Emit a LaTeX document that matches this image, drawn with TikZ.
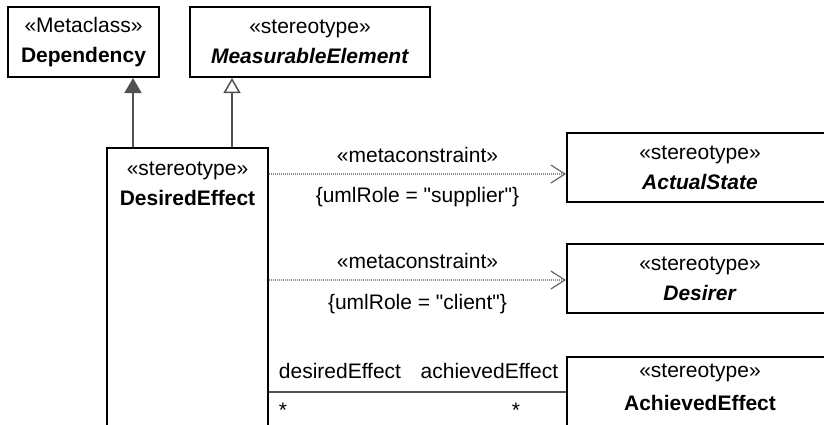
\documentclass[tikz,border=0pt]{standalone}
\usepackage{fontspec}
\setmainfont{Liberation Sans}
\font\quotefont="Liberation Sans" at 21pt
\newcommand{\straightq}{{\quotefont\char34}}
\usetikzlibrary{arrows.meta,positioning}
\colorlet{linegray}{black!68}
\colorlet{dotgray}{black!45}

\begin{document}
\begin{tikzpicture}
    [x=1pt,y=-1pt,
    every node/.style={font=\fontsize{21}{30}\selectfont},
    classbox/.style={draw,line width=2pt,align=center,inner sep=0pt,minimum height=70pt},
    headtext/.style={align=center,inner sep=0pt,anchor=north},
    genline/.style={draw=linegray,line width=1.5pt},
    metaline/.style={draw=dotgray,line width=1.1pt,dash pattern=on 1pt off 1pt,
        -{Straight Barb[length=14pt,width=18pt,line width=1.2pt,color=black!60]}},
    assocline/.style={draw=linegray,line width=1.8pt},
    rolelabel/.style={inner sep=3pt}]
    \useasboundingbox (0,0) rectangle (824,424);
    \clip (0,0) rectangle (824,424);
    %top boxes
    \node[classbox,minimum width=151pt] (dep) at (83.5,42)
    {«Metaclass»\\\textbf{Dependency}};
    \node[classbox,minimum width=240pt] (meas) at (310,42)
    {«stereotype»\\\textbf{\textit{MeasurableElement}}};
    %left box, runs off the bottom
    \node[classbox,minimum width=161pt,minimum height=330pt,anchor=north] (desiredbox) at (187.5,147) {};
    \node[headtext] (desiredtxt) at ([yshift=-15pt]desiredbox.north)
    {«stereotype»\\\textbf{DesiredEffect}};
    %right boxes
    \node[classbox,minimum width=266pt,minimum height=69pt] (actual) at (700,167.5)
    {«stereotype»\\\textbf{\textit{ActualState}}};
    \node[classbox,minimum width=266pt,minimum height=69pt] (desirer) at (700,278.5)
    {«stereotype»\\\textbf{\textit{Desirer}}};
    \node[classbox,minimum width=266pt,minimum height=120pt,anchor=north] (achieved) at (700,356) {};
    \node[headtext] (achievedtxt) at ([yshift=-8pt]achieved.north)
    {«stereotype»\\[3pt]\textbf{AchievedEffect}};
    %generalizations
    \coordinate (g1) at ([xshift=27pt]desiredbox.north west);
    \coordinate (g2) at ([xshift=126pt]desiredbox.north west);
    \draw[genline,-{Triangle[length=15pt,width=17pt]}] (g1) -- (g1 |- dep.south);
    \draw[genline,-{Triangle[open,length=15pt,width=17pt]}] (g2) -- (g2 |- meas.south);
    %metaconstraints
    \coordinate (m1) at ([yshift=-6.5pt]actual.west);
    \coordinate (m2) at ([yshift=-1.5pt]desirer.west);
    \draw[metaline] (desiredbox.east |- m1) -- (m1)
    node[midway,above=8pt,rolelabel]{«metaconstraint»}
    node[midway,below=10pt,rolelabel]{\{umlRole = \straightq supplier\straightq\}};
    \draw[metaline] (desiredbox.east |- m2) -- (m2)
    node[midway,above=8pt,rolelabel]{«metaconstraint»}
    node[midway,below=11pt,rolelabel]{\{umlRole = \straightq client\straightq\}};
    %association
    \coordinate (a1) at ([yshift=-36pt]achieved.north west);
    \draw[assocline] (desiredbox.east |- a1) -- (a1)
    node[pos=0,above right=9pt and 6pt,rolelabel]{desiredEffect}
    node[pos=1,above left=9pt and 4pt,rolelabel]{achievedEffect}
    node[pos=0,below right=7pt and 6pt,rolelabel]{*}
    node[pos=1,below left=7pt and 42pt,rolelabel]{*};
\end{tikzpicture}
\end{document}
